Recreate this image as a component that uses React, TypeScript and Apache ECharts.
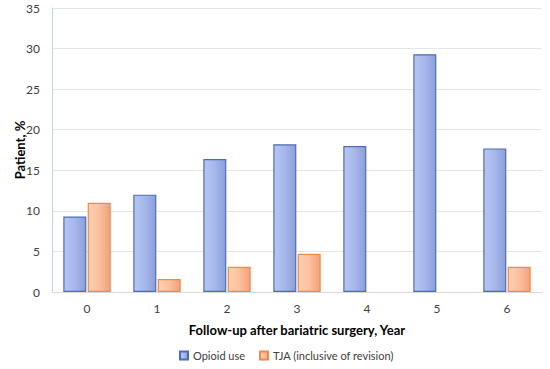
import React, { useEffect, useRef } from "react";
import * as echarts from "echarts";

const categories = ["0", "1", "2", "3", "4", "5", "6"];
const opioidUse = [9.3, 12.0, 16.4, 18.2, 18.0, 29.3, 17.7];
const tja = [11.0, 1.6, 3.1, 4.7, 0, 0, 3.1];
const seriesNames = ["Opioid use", "TJA (inclusive of revision)"];

export default function App() {
  const ref = useRef<HTMLDivElement>(null);
  useEffect(() => {
    if (!ref.current) return;
    const chart = echarts.init(ref.current, undefined, { renderer: "svg" });
    const font = "Lato";
    const blueFill = new echarts.graphic.LinearGradient(0, 0, 1, 0, [
      { offset: 0, color: "#b7c6f2" },
      { offset: 0.5, color: "#a5b7ec" },
      { offset: 1, color: "#8d9fd9" },
    ]);
    const orangeFill = new echarts.graphic.LinearGradient(0, 0, 1, 0, [
      { offset: 0, color: "#fdd0b3" },
      { offset: 0.5, color: "#fcc09d" },
      { offset: 1, color: "#f1a27a" },
    ]);
    const hideZero = (arr: number[]) => arr.map((v) => (v === 0 ? null : v));
    chart.setOption({
      animation: false,
      textStyle: { fontFamily: font },
      grid: { left: 52, right: 8, top: 8, bottom: 77, containLabel: false, outerBoundsMode: "none" },
      legend: {
        data: seriesNames,
        left: 174,
        top: 345,
        itemWidth: 8,
        itemHeight: 8,
        itemGap: 14,
        icon: "rect",
        textStyle: { fontSize: 11, color: "#404040", fontFamily: font },
      },
      xAxis: {
        type: "category",
        data: categories,
        name: "Follow-up after bariatric surgery, Year",
        nameLocation: "middle",
        nameGap: 31,
        nameMoveOverlap: false,
        nameTextStyle: { fontSize: 13, fontWeight: "bold", color: "#000", fontFamily: font },
        axisLine: { lineStyle: { color: "#d9d9d9" } },
        axisTick: { show: false },
        axisLabel: { fontSize: 12, color: "#404040", margin: 10 },
      },
      yAxis: {
        type: "value",
        min: 0,
        max: 35,
        interval: 5,
        name: "Patient, %",
        nameLocation: "middle",
        nameGap: 26,
        nameMoveOverlap: false,
        nameTextStyle: { fontSize: 13, fontWeight: "bold", color: "#000", fontFamily: font },
        axisLine: { show: true, lineStyle: { color: "#bcd7ef" } },
        axisTick: { show: false },
        splitLine: { lineStyle: { color: "#e6e6e6" } },
        axisLabel: { fontSize: 12, color: "#404040", margin: 12 },
      },
      series: [
        {
          name: seriesNames[0],
          type: "bar",
          data: hideZero(opioidUse),
          barWidth: 23,
          barGap: "6%",
          itemStyle: { color: blueFill, borderColor: "#4b6db5", borderWidth: 1.2 },
        },
        {
          name: seriesNames[1],
          type: "bar",
          data: hideZero(tja),
          barWidth: 23,
          itemStyle: { color: orangeFill, borderColor: "#ee8a4d", borderWidth: 1.2 },
        },
      ],
    });
    return () => chart.dispose();
  }, []);
  return <div ref={ref} style={{ width: 550, height: 369, position: "absolute", left: 0, top: 0 }} />;
}
